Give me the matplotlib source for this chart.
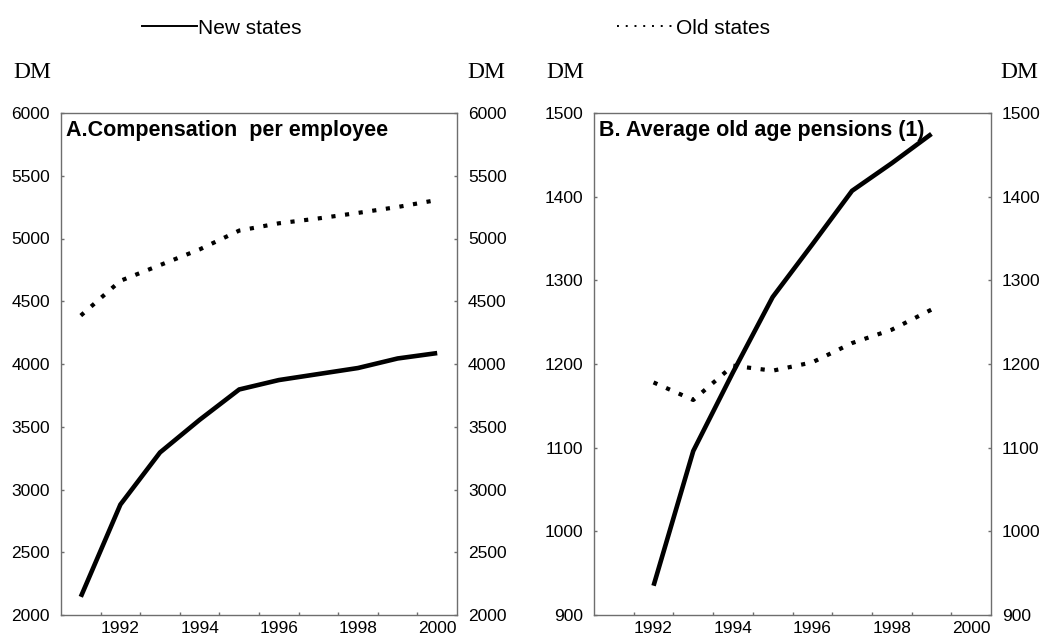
import numpy as np
import matplotlib
matplotlib.use("Agg")
import matplotlib.pyplot as plt
from matplotlib.lines import Line2D

plt.rcParams['font.family'] = ['Liberation Sans', 'DejaVu Sans']

# Panel A: compensation per employee (DM), 1991-2000
years_a = [1991, 1992, 1993, 1994, 1995, 1996, 1997, 1998, 1999, 2000]
comp_new = [2145, 2880, 3295, 3555, 3797, 3872, 3920, 3968, 4044, 4087]
comp_old = [4386, 4663, 4788, 4913, 5063, 5121, 5160, 5204, 5251, 5307]

# Panel B: average old age pensions (DM), 1992-1999
years_b = [1992, 1993, 1994, 1995, 1996, 1997, 1998, 1999]
pens_new = [935, 1096, 1190, 1280, 1343, 1407, 1440, 1475]
pens_old = [1178, 1157, 1198, 1192, 1202, 1225, 1241, 1265]

panels = [
    ("A.Compensation  per employee", years_a, comp_new, comp_old, (2000, 6000), 500),
    ("B. Average old age pensions (1)", years_b, pens_new, pens_old, (900, 1500), 100),
]

fig = plt.figure(figsize=(10.43, 6.35), dpi=100)
axes_pos = [[61/1043, 20/635, 396/1043, 502/635],
            [594/1043, 20/635, 397/1043, 502/635]]

spine_col = '#6e6e6e'
for (title, yrs, new, old, ylim, step), pos in zip(panels, axes_pos):
    ax = fig.add_axes(pos)
    ax.plot(yrs, new, color='black', lw=3.3, solid_capstyle='butt', solid_joinstyle='miter')
    ax.plot(yrs, old, color='black', lw=3.0, linestyle=(0, (1, 2.3)), dash_capstyle='butt')
    ax.set_xlim(1990.5, 2000.5)
    ax.set_ylim(*ylim)
    ax.set_yticks(np.arange(ylim[0], ylim[1] + step, step))
    ax.set_xticks(np.arange(1992, 2001, 2))
    ax.set_xticks(np.arange(1991.5, 2000, 1), minor=True)
    ax.tick_params(axis='x', which='major', length=0, pad=4, labelsize=12.5)
    ax.tick_params(axis='x', which='minor', direction='in', length=2.5, width=1, color=spine_col)
    ax.tick_params(axis='y', direction='in', length=2.5, width=1, color=spine_col,
                   left=True, right=True, labelleft=True, labelright=True,
                   pad=8, labelsize=12.5)
    for s in ax.spines.values():
        s.set_color(spine_col)
        s.set_linewidth(1.0)
    ax.text(0.012, 0.966, title, transform=ax.transAxes, fontsize=15.5,
            fontweight='bold', va='center', ha='left')

# unit labels
for xpx in [13, 467, 546, 1000]:
    fig.text(xpx/1043, 1 - 72/635, "DM", family='Liberation Serif', fontsize=17,
             va='center', ha='left')

# legend
h_new = Line2D([], [], color='black', lw=1.4)
h_old = Line2D([], [], color='black', lw=1.4, linestyle=(0, (1, 3.5)))
fig.legend([h_new], ["New states"], loc='center left',
           bbox_to_anchor=(142/1043, 1 - 28/635), frameon=False, fontsize=15,
           borderpad=0, borderaxespad=0, handlelength=2.65, handletextpad=0.05)
fig.legend([h_old], ["Old states"], loc='center left',
           bbox_to_anchor=(617/1043, 1 - 28/635), frameon=False, fontsize=15,
           borderpad=0, borderaxespad=0, handlelength=2.65, handletextpad=0.2)

fig.savefig("out.png", dpi=100)
